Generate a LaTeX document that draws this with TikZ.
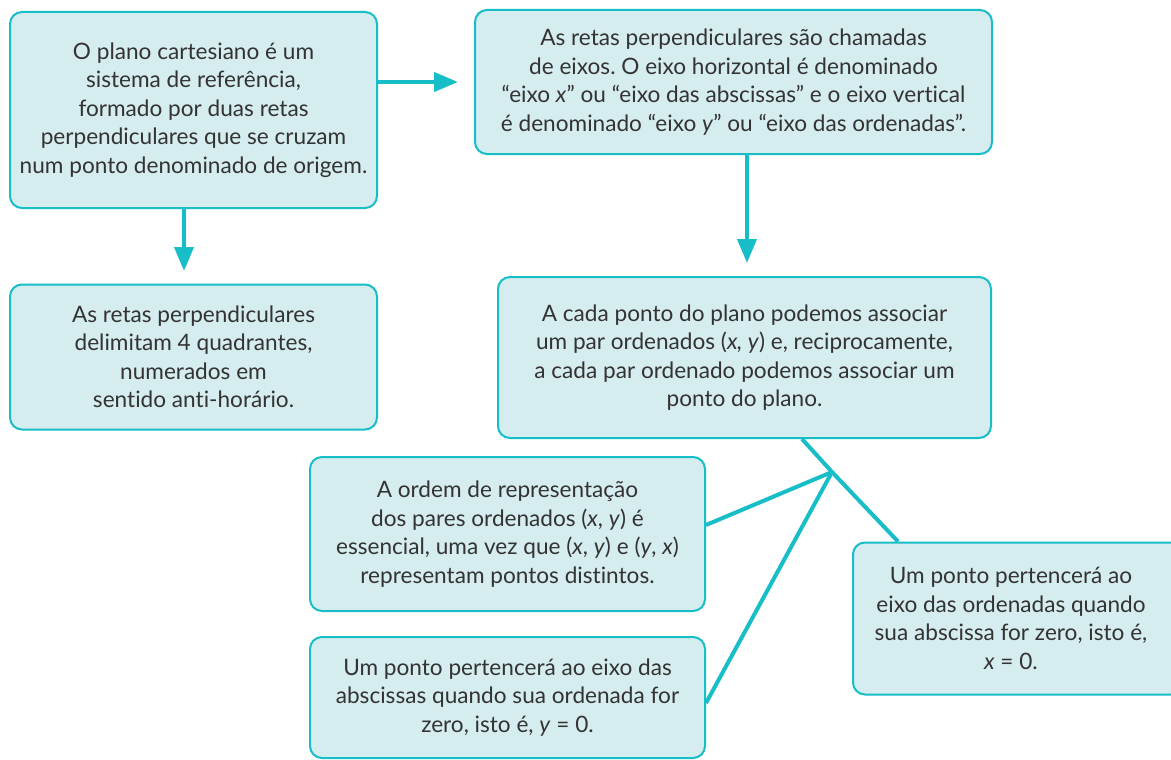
\documentclass[tikz,border=0pt]{standalone}
\usepackage{fontspec}
\setmainfont{Lato}[Ligatures={NoCommon}]
\usetikzlibrary{arrows.meta}
\frenchspacing
\definecolor{cardfill}{HTML}{D6EDF0}
\definecolor{teal}{HTML}{17BDC7}
\definecolor{ink}{HTML}{333333}
\tikzset{
  card/.style={draw=teal, fill=cardfill, line width=2pt, rounded corners=12pt,
    inner sep=0pt, align=center, text=ink,
    font=\fontsize{22.6}{28.5}\selectfont},
  arrowline/.style={draw=teal, line width=4pt, -{Triangle[length=24pt,width=19pt]}},
  link/.style={draw=teal, line width=4pt}
}
\begin{document}
\begin{tikzpicture}[x=1pt,y=-1pt]
\path[use as bounding box, clip] (0,0) rectangle (1171,760);
\fill[white] (0,0) rectangle (1171,760);

\node[card, minimum width=367pt, minimum height=196pt] (b1) at (193.5,110)
 {O plano cartesiano é um\\ sistema de referência,\\ formado por duas retas\\ perpendiculares que se cruzam\\ num ponto denominado de origem.};

\node[card, minimum width=517pt, minimum height=144pt] (b2) at (733.5,82)
 {As retas perpendiculares são chamadas\\ de eixos. O eixo horizontal é denominado\\ “eixo \textit{x}” ou “eixo das abscissas” e o eixo vertical\\ é denominado “eixo \textit{y}” ou “eixo das ordenadas”.};

\node[card, minimum width=367pt, minimum height=145pt] (b3) at (193.5,357)
 {As retas perpendiculares\\ delimitam 4 quadrantes,\\ numerados em\\ sentido anti-horário.};

\node[card, minimum width=493pt, minimum height=161pt] (b4) at (744.5,357.5)
 {A cada ponto do plano podemos associar\\ um par ordenados (\textit{x, y}) e, reciprocamente,\\ a cada par ordenado podemos associar um\\ ponto do plano.};

\node[card, minimum width=395pt, minimum height=154pt] (b5) at (507.5,534)
 {A ordem de representação\\ dos pares ordenados (\textit{x}, \textit{y}) é\\ essencial, uma vez que (\textit{x}, \textit{y}) e (\textit{y}, \textit{x})\\ representam pontos distintos.};

\node[card, minimum width=395pt, minimum height=121pt] (b6) at (507.5,697.5)
 {Um ponto pertencerá ao eixo das\\ abscissas quando sua ordenada for\\ zero, isto é, \textit{y} = 0.};

\node[card, minimum width=330pt, minimum height=152pt] (b7) at (1018,618.5)
 {\hspace*{-14pt}Um ponto pertencerá ao\\ \hspace*{-14pt}eixo das ordenadas quando\\ \hspace*{-14pt}sua abscissa for zero, isto é,\\ \hspace*{-14pt}\textit{x} = 0.};

\coordinate (t1) at (458,82);
\coordinate (t2) at (184,271);
\coordinate (t3) at (747,263);
\coordinate (J) at (832,472);
\coordinate (p4) at (802,0);
\coordinate (p7) at (898,0);
\coordinate (p5) at (0,525);
\coordinate (p6) at (0,703);

\draw[arrowline] (b1.east |- t1) -- (t1);
\draw[arrowline] (b1.south -| t2) -- (t2);
\draw[arrowline] (b2.south -| t3) -- (t3);

\draw[link] (b4.south -| p4) -- (J) -- (b7.north -| p7);
\draw[link] (b5.east |- p5) -- (J);
\draw[link] (b6.east |- p6) -- (J);
\end{tikzpicture}
\end{document}
